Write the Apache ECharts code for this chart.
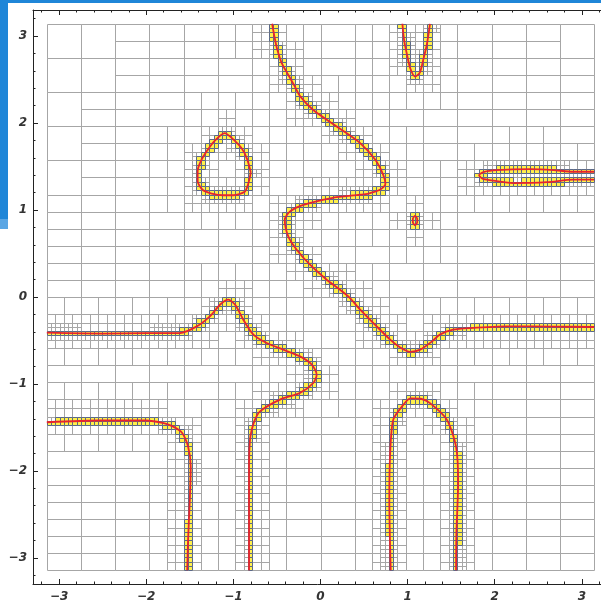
<!DOCTYPE html>
<html><head><meta charset="utf-8">
<script src="https://cdn.jsdelivr.net/npm/echarts@6/dist/echarts.min.js"></script>
<style>html,body{margin:0;padding:0;background:#fff}#c{width:601px;height:609px}</style>
</head><body><div id="c"></div>
<script>
const PI = Math.PI;
// ---- curve traces (x, y) ----
const curveS = [[-0.555,3.1416],[-0.53,3.00],[-0.50,2.86],[-0.445,2.69],[-0.37,2.555],[-0.30,2.43],[-0.235,2.31],[-0.083,2.15],[0.186,1.96],[0.455,1.77],[0.627,1.58],[0.72,1.405],[0.745,1.30],[0.683,1.233],[0.55,1.19],[0.453,1.176],[0.129,1.138],[-0.197,1.06],[-0.35,0.984],[-0.41,0.889],[-0.37,0.697],[-0.273,0.544],[-0.12,0.371],[0.071,0.199],[0.224,0.084],[0.339,-0.012],[0.455,-0.146],[0.627,-0.32],[0.80,-0.49],[0.915,-0.58],[1.03,-0.63],[1.145,-0.605],[1.28,-0.51],[1.37,-0.433],[1.52,-0.376],[1.72,-0.357],[2.14,-0.338],[2.7,-0.34],[3.1416,-0.345]];
const curveLeft = [[-3.1416,-0.41],[-2.5,-0.42],[-2.0,-0.415],[-1.61,-0.414],[-1.42,-0.338],[-1.27,-0.223],[-1.154,-0.089],[-1.059,-0.031],[-0.98,-0.089],[-0.886,-0.261],[-0.77,-0.433],[-0.618,-0.529],[-0.427,-0.606],[-0.235,-0.683],[-0.10,-0.778],[-0.044,-0.893],[-0.083,-0.989],[-0.235,-1.103],[-0.465,-1.18],[-0.695,-1.315],[-0.752,-1.41],[-0.79,-1.53],[-0.81,-1.65],[-0.82,-1.9],[-0.82,-2.5],[-0.82,-3.1416]];
const curveL = [[-3.1416,-1.44],[-2.53,-1.42],[-2.0,-1.42],[-1.80,-1.45],[-1.69,-1.49],[-1.59,-1.56],[-1.52,-1.72],[-1.49,-1.95],[-1.50,-2.33],[-1.52,-2.79],[-1.53,-3.1416]];
const curveArch = [[0.806,-3.1416],[0.79,-2.33],[0.80,-1.79],[0.835,-1.41],[0.95,-1.24],[1.03,-1.165],[1.15,-1.17],[1.257,-1.22],[1.45,-1.41],[1.556,-1.72],[1.58,-2.14],[1.56,-2.71],[1.556,-3.1416]];
const curveOval = [[-0.80,1.43],[-0.83,1.30],[-0.87,1.21],[-1.0,1.17],[-1.12,1.17],[-1.25,1.19],[-1.35,1.23],[-1.41,1.33],[-1.41,1.45],[-1.37,1.57],[-1.31,1.67],[-1.22,1.79],[-1.10,1.885],[-1.02,1.83],[-0.905,1.71],[-0.84,1.58],[-0.80,1.43]];
const curveU = [[0.94,3.1416],[0.96,2.95],[0.99,2.80],[1.03,2.63],[1.085,2.535],[1.14,2.58],[1.18,2.73],[1.22,2.90],[1.257,3.1416]];
const curveLoop = [[3.1416,1.44],[2.90,1.44],[2.67,1.46],[2.405,1.47],[2.02,1.46],[1.88,1.44],[1.82,1.40],[1.86,1.36],[1.91,1.35],[2.21,1.31],[2.60,1.32],[2.90,1.35],[3.1416,1.35]];
const curveDot = [[1.085,0.935],[1.11,0.90],[1.11,0.86],[1.085,0.825],[1.06,0.86],[1.06,0.90],[1.085,0.935]];
const majorTicks = [-3,-2,-1,0,1,2,3];
const minorTicks = [-3.2,-2.8,-2.6,-2.4,-2.2,-1.8,-1.6,-1.4,-1.2,-0.8,-0.6,-0.4,-0.2,0.2,0.4,0.6,0.8,1.2,1.4,1.6,1.8,2.2,2.4,2.6,2.8,3.2];

const curves = [curveS, curveLeft, curveL, curveArch, curveOval, curveU, curveLoop, curveDot];

// ---- adaptive mesh derived from the traced curves ----
function densify(c, step){
  const out=[];
  for(let i=0;i<c.length-1;i++){
    const [ax,ay]=c[i],[bx,by]=c[i+1];
    const n=Math.max(1,Math.ceil(Math.hypot(bx-ax,by-ay)/step));
    for(let k=0;k<n;k++){out.push([ax+(bx-ax)*k/n, ay+(by-ay)*k/n]);}
  }
  out.push(c[c.length-1]);
  return out;
}
let P=[]; curves.forEach(c=>{P=P.concat(densify(c,0.004));});
function filt(pts,x0,y0,x1,y1,m){return pts.filter(p=>p[0]>=x0-m&&p[0]<=x1+m&&p[1]>=y0-m&&p[1]<=y1+m);}
function minDist(pts,x0,y0,x1,y1){
  let d=Infinity;
  for(const p of pts){
    const dx=Math.max(x0-p[0],0,p[0]-x1), dy=Math.max(y0-p[1],0,p[1]-y1);
    const v=Math.hypot(dx,dy); if(v<d)d=v; if(d===0)break;
  }
  return d;
}
const TH=[1.25,0.3,0.08,0.022];
const YEL=0.012;
const grayCells=[], yellowCells=[];
function refine(x0,y0,x1,y1,lv,pts){
  if(lv===4){
    const d=minDist(pts,x0,y0,x1,y1);
    (d<YEL?yellowCells:grayCells).push([x0,y0,x1,y1]); return;
  }
  const m=TH[lv];
  const sub=filt(pts,x0,y0,x1,y1,m);
  const d=minDist(sub,x0,y0,x1,y1);
  if(d>=m){grayCells.push([x0,y0,x1,y1]);return;}
  const xm=(x0+x1)/2, ym=(y0+y1)/2;
  if(lv===0){refine(x0,y0,x1,ym,1,sub);refine(x0,ym,x1,y1,1,sub);}
  else if(lv===1){refine(x0,y0,xm,y1,2,sub);refine(xm,y0,x1,y1,2,sub);}
  else {refine(x0,y0,xm,ym,lv+1,sub);refine(xm,y0,x1,ym,lv+1,sub);refine(x0,ym,xm,y1,lv+1,sub);refine(xm,ym,x1,y1,lv+1,sub);}
}
const N=16, h=2*PI/N;
for(let i=0;i<N;i++)for(let j=0;j<N;j++){
  refine(-PI+i*h,-PI+j*h,-PI+(i+1)*h,-PI+(j+1)*h,0,P);
}

function cellRender(fill,stroke){
  return function(params,api){
    const a=api.coord([api.value(0),api.value(3)]);
    const b=api.coord([api.value(2),api.value(1)]);
    const x=Math.round(a[0])+0.5, y=Math.round(a[1])+0.5;
    const x2=Math.round(b[0])+0.5, y2=Math.round(b[1])+0.5;
    return {type:'rect',shape:{x:x,y:y,width:x2-x,height:y2-y},style:{fill:fill,stroke:stroke,lineWidth:1}};
  };
}

const fmt=v=>v<0?'\u2212'+Math.abs(v):String(v);
const font={fontFamily:'DejaVu Sans',fontStyle:'italic',fontWeight:'bold',fontSize:12,color:'#333'};
const lineCol='#222';
function ax(pos,major,labels){
  return {type:'value',min:-3.3,max:3.3,position:pos,splitLine:{show:false},
    axisLine:{show:major,onZero:false,lineStyle:{color:lineCol,width:1}},
    axisTick:{show:true,inside:true,length:major?5:2.5,customValues:major?majorTicks:minorTicks,lineStyle:{color:lineCol,width:1}},
    axisLabel:labels?Object.assign({show:true,customValues:majorTicks,formatter:fmt,margin:pos==='left'?6:7},font):{show:false}};
}
const series=[
  {type:'custom',renderItem:cellRender('none','#a6a6a6'),data:grayCells,encode:{x:[0,2],y:[1,3]},silent:true,z:1},
  {type:'custom',renderItem:cellRender('#fff04a','#5a6889'),data:yellowCells,encode:{x:[0,2],y:[1,3]},silent:true,z:2}
];
curves.forEach(c=>series.push({type:'line',data:c,showSymbol:false,smooth:0.25,silent:true,z:5,
  lineStyle:{color:'#e8242c',width:1.8}}));

const chart=echarts.init(document.getElementById('c'),null,{renderer:'canvas'});
chart.setOption({
  animation:false,
  backgroundColor:'#fff',
  grid:{left:33,top:10,width:575,height:574,containLabel:false,outerBoundsMode:'none'},
  xAxis:[ax('bottom',true,true),ax('bottom',false,false),ax('top',true,false),ax('top',false,false)],
  yAxis:[ax('left',true,true),ax('left',false,false),ax('right',true,false),ax('right',false,false)],
  series:series,
  graphic:[
    {type:'rect',left:0,top:0,shape:{width:601,height:3},style:{fill:'#1f86d8'},z:100},
    {type:'rect',left:0,top:0,shape:{width:8,height:219},style:{fill:'#1f86d8'},z:100},
    {type:'rect',left:0,top:219,shape:{width:8,height:10},style:{fill:'#5aa6e4'},z:100}
  ]
});
</script></body></html>
